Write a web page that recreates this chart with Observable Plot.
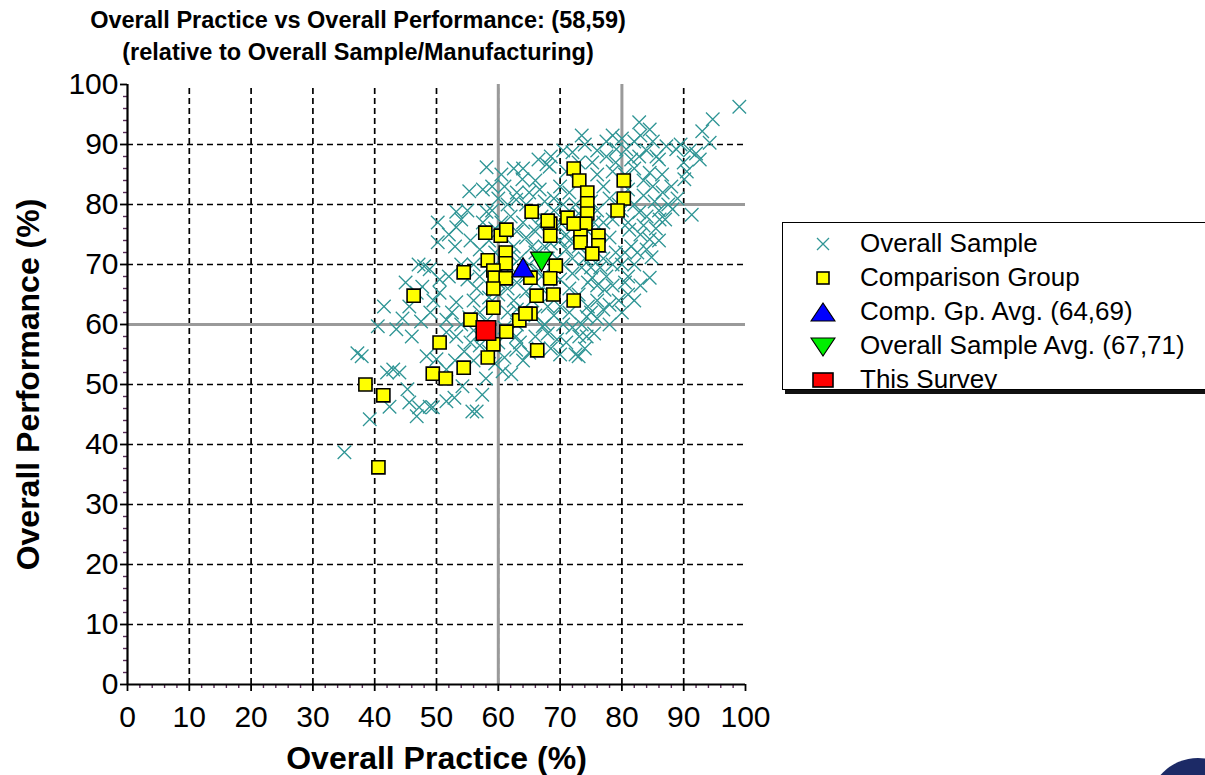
<!DOCTYPE html>
<html>
<head>
<meta charset="utf-8">
<script src="https://cdn.jsdelivr.net/npm/d3@7"></script>
<script src="https://cdn.jsdelivr.net/npm/@observablehq/plot@0.6"></script>
<style>
  html, body { margin: 0; padding: 0; background: #fff; }
  body { width: 1205px; height: 775px; overflow: hidden; position: relative; font-family: "Liberation Sans", Arial, sans-serif; }
  #title { position: absolute; left: 0; top: 4px; width: 716px; text-align: center;
    font-family: "Liberation Sans Narrow", "Liberation Sans", Arial, sans-serif; font-weight: bold;
    font-size: 23.5px; line-height: 32px; color: #000; }
  #chart { position: absolute; left: 0; top: 68px; }
  #legend { position: absolute; left: 782px; top: 222px; width: 440px; height: 168px;
    border: 1px solid #000; box-shadow: 3px 4px 0 #111; overflow: hidden; background: #fff; box-sizing: border-box; }
  .row { position: relative; height: 34px; font-size: 26px; line-height: 34px; white-space: nowrap; color: #000; }
  .row svg { position: absolute; left: 27px; top: 5px; }
  .row span { position: absolute; left: 77px; top: 0; }
  #logo { position: absolute; left: 1148px; top: 758px; width: 100px; height: 100px; border-radius: 50%; background: #1c2a66; }
  svg g[aria-label="x-axis tick label"], svg g[aria-label="y-axis tick label"] { font-size: 30px; }
  svg g[aria-label="x-axis label"], svg g[aria-label="y-axis label"] { font-size: 32px; font-weight: bold; }
</style>
</head>
<body>
<div id="title"></div>
<div id="chart"></div>
<div id="legend"></div>
<div id="logo"></div>
<script>
// ---------------- data ----------------
const titleLines = ["Overall Practice vs Overall Performance: (58,59)", "(relative to Overall Sample/Manufacturing)"];
const xLabel = "Overall Practice (%)";
const yLabel = "Overall Performance (%)";
const majorTicks = [0, 10, 20, 30, 40, 50, 60, 70, 80, 90, 100];
const minorTicks = [2,4,6,8,12,14,16,18,22,24,26,28,32,34,36,38,42,44,46,48,52,54,56,58,62,64,66,68,72,74,76,78,82,84,86,88,92,94,96,98];
const gridLines = [10, 20, 30, 40, 50, 60, 70, 80, 90];
const surveyRefX = [60];      // vertical reference (full height)
const surveyRefY = [60];      // horizontal reference (full width)
const bestRefX = [80];        // upper-right quadrant boundary
const bestRefY = [80];

const legendLabels = ["Overall Sample", "Comparison Group", "Comp. Gp. Avg. (64,69)", "Overall Sample Avg. (67,71)", "This Survey"];

const overallSample = [
  [35.1,38.7],[39.2,44.2],[37.9,54.7],[37.2,55.2],[40.5,59.7],[43.5,59.2],[45.6,63],[46.8,65.3],[44,52],[43,52.5],
  [42.4,46.3],[45.6,47],[46.8,44.7],[48.9,46.3],[51.6,47.2],[56.5,45.5],[54.2,49.7],[51.6,52.5],[48.4,54.7],[50,54.2],
  [51.6,58.7],[53.2,58],[60.7,52.2],[62.9,55.8],[65,55.3],[47.7,66.3],[48.9,69.2],[50.5,65.3],[53.2,63.7],[51.6,60.8],
  [55.3,61.2],[62.9,58],[67.2,59.7],[58.1,86.2],[55.3,82.2],[53.2,78.8],[50.2,77],[53.2,76.2],[58.1,78.8],[63.9,84.2],
  [67.8,86.7],[62.9,80.8],[66.7,82.5],[48,69.7],[99,96.3],[94.7,94.2],[93,92.2],[94.2,90.3],[84.5,92.5],[82.8,93.7],
  [88.8,89.2],[92.6,87.5],[90.5,85.5],[90.1,84.2],[86.6,82],[88.2,79.2],[91.3,78.3],[84.5,74.2],[82,70],[79.1,89.2],
  [77.5,90.5],[72,88.7],[75.2,87],[68.3,86.3],[81.2,75.8],[81.5,73],[82.8,78.7],[86.1,77.5],[85.3,80.5],[84.5,85.3],
  [82.8,88],[80.7,89.2],[85.6,88],[87.2,89.7],[84.8,71.2],[84.5,67.8],[78,63.3],[74.3,61.3],[73.1,58],[77.2,65.8],
  [75.2,67.8],[78,60],[74.3,58],[73,54.7],[50.2,73.7],[47.1,70],[45,67],[44.5,61],[41.5,63],[46,58],
  [47.5,60.5],[49,62],[42,52],[45.3,49.2],[47.2,46.2],[49.4,46.2],[52.9,47.8],[55.8,45.5],[57.4,48.3],[62.1,51.7],
  [58,51],[59.5,53.5],[56,54],[57,56.5],[54.5,55.5],[53,54],[56,64],[57,62],[58,60.5],[56.5,66],
  [55,67.5],[56,70],[57,72.5],[55.5,74],[57.5,77],[59,79],[60,81],[61,83],[62,78],[60.5,77],
  [59.5,72],[60.5,69],[60,65],[61.5,62],[62.5,64],[63,67],[62,69.5],[63.5,71],[62.5,73],[63,75.5],
  [64,77],[64.5,80],[65,82],[66,84],[64,86],[65.5,73],[66,75.5],[65,70],[66.5,69],[67,66],
  [65.5,64],[64,62.5],[66,61.5],[68,63],[67.5,60],[69,61.5],[70,63],[70.5,60],[71.5,62],[72,59.5],
  [71,57],[69.5,57.5],[68.5,56],[70,55],[72.5,55],[74,56],[75.5,58.5],[76,61],[77,62.5],[76,64],
  [74.5,63],[73,65],[71.5,66],[70,67.5],[69.5,71],[71,72.5],[70.5,70],[72,68.5],[73.5,69.5],[74.5,67],
  [76,66.5],[77.5,68],[78.5,70],[79,72],[77,71],[76.5,73],[78,74.5],[77,77],[78.5,77.5],[79.5,80],
  [78,81],[77,83],[76,85],[78.5,85.5],[79,87],[77.5,88],[76,89],[74,90],[73,87],[71,85.5],
  [70,83],[69,81],[70.5,80],[71.5,82],[72.5,80],[73,78.5],[75,80.5],[76,79],[75.5,77],[71,75],
  [70,77],[69,79],[67.5,80.5],[67,78],[66.5,76.5],[67.5,73],[68,71],[66,72],[64.5,68],[63,60],
  [61,59.5],[60,57],[63.5,57],[66,58],[68.5,65],[67,68],[70,74],[72,71],[74,71],[75,69.5],
  [80,70],[80.5,67],[81,65],[79.5,64],[80,62],[82,64],[83,66.5],[81,68],[80.5,72],[82.5,72],
  [83,75],[81,77],[80,79],[82,80],[83.5,81.5],[81,82.5],[80.5,85],[82,86],[83.5,84],[85,83],
  [86.5,85],[86,87.5],[84,89],[82,90.5],[80,91],[78.5,91.5],[83,91.5],[81.5,87.5],[88,83],[87.5,80],
  [86,79],[84,78],[85.5,76],[83.5,76.5],[84,72.5],[86,74],[87,77.5],[89,81],[90,87],[91,89],
  [89.5,90],[92,88.5],[85,90.5],[73.5,91.5],[70.5,89],[68.5,88],[66.5,87.5],[62.5,86],[60.5,85],[59,83],
  [57.5,82.5],[55,79],[54,77.5],[52,75],[53,73],[54,70],[52,68],[50.5,67.5],[49.5,64],[52.5,62],
  [54,60],[56,59],[57.5,58],[55.5,57],[58.5,55.5],[61,54.5],[64,54],[66.5,56],[68,58.5],[73.5,60],
  [75,62],[78.5,66.5],[76.5,69.5],[73,73],[74.5,75.5],[71.5,74],[68.5,73.5],[69.5,76],[65.5,79],[63,82],
  [61.5,80],[59.5,76],[58.5,74],[57,68],[58.5,64.5],[60,67],[61.5,66],[63,62.5],[64.5,65.5],[62,71.5],
  [60.5,71],[64.5,74.5]
];

const comparisonGroup = [
  [72.2,86],[73.1,84],[74.4,82],[74.4,80.2],[74.4,78.5],[74.1,76.8],[73.3,74.8],[73.3,73.7],[76.2,74.8],[76.2,73.2],
  [75.2,71.8],[71.2,77.8],[72.2,76.8],[68.4,76.8],[68.4,74.8],[80.3,84],[80.3,81],[79.3,79],[69.3,69.8],[68.4,67.7],
  [65.4,78.8],[57.9,75.3],[60.4,74.8],[61.3,75.8],[58.3,70.7],[61.2,72],[61.2,70.2],[54.4,68.7],[59.2,69],[68,77.3],
  [59.4,67.8],[61.2,67.7],[59.2,66],[66.2,64.8],[65.2,67.8],[59.2,62.8],[65.2,61.8],[63.4,60.7],[61.3,58.8],[59.2,56.7],
  [50.5,57],[55.5,60.8],[46.3,64.8],[64.4,61.8],[58.3,54.5],[66.3,55.7],[49.4,51.8],[51.5,51],[54.4,52.8],[38.5,50],
  [41.4,48.2],[40.6,36.2],[68.9,65],[72.2,64]
];

const compGroupAvg = [[64, 69]];
const overallSampleAvg = [[67, 71]];
const thisSurvey = [[58, 59]];

// ---------------- colors / style ----------------
const teal = "#2f9595";
const invertedTriangle = {
  draw(context, size) {
    const s3 = Math.sqrt(3);
    const y = -Math.sqrt(size / (s3 * 3));
    context.moveTo(0, -y * 2);
    context.lineTo(-s3 * y, y);
    context.lineTo(s3 * y, y);
    context.closePath();
  }
};

const toObj = arr => arr.map(([x, y]) => ({x, y}));

// ---------------- title ----------------
document.getElementById("title").innerHTML = titleLines.map(t => `<div>${t}</div>`).join("");

// ---------------- plot ----------------
const chart = Plot.plot({
  width: 1205,
  height: 707,
  marginLeft: 127,
  marginRight: 460,
  marginTop: 16,
  marginBottom: 91,
  style: { fontFamily: '"Liberation Sans", Arial, sans-serif', background: "transparent", overflow: "visible", color: "#000" },
  x: { domain: [0, 100] },
  y: { domain: [0, 100] },
  marks: [
    Plot.ruleX(gridLines, { y1: 0, y2: 100, stroke: "#000", strokeWidth: 1.7, strokeDasharray: "6,4" }),
    Plot.ruleY(gridLines, { x1: 0, x2: 100, stroke: "#000", strokeWidth: 1.7, strokeDasharray: "6,4" }),
    Plot.ruleX(surveyRefX, { y1: 0, y2: 100, stroke: "#9a9a9a", strokeWidth: 3 }),
    Plot.ruleY(surveyRefY, { x1: 0, x2: 100, stroke: "#9a9a9a", strokeWidth: 3 }),
    Plot.ruleX(bestRefX, { y1: bestRefY[0], y2: 100, stroke: "#9a9a9a", strokeWidth: 3 }),
    Plot.ruleY(bestRefY, { x1: bestRefX[0], x2: 100, stroke: "#9a9a9a", strokeWidth: 3 }),
    Plot.dot(toObj(overallSample), { x: "x", y: "y", symbol: "times", r: 6.2, stroke: teal, strokeWidth: 1.3 }),
    Plot.dot(toObj(comparisonGroup), { x: "x", y: "y", symbol: "square", r: 7.4, fill: "#ffff00", stroke: "#000", strokeWidth: 1.6 }),
    Plot.dot(toObj(compGroupAvg), { x: "x", y: "y", symbol: "triangle", r: 8.2, fill: "#0000ff", stroke: "#000", strokeWidth: 1.2 }),
    Plot.dot(toObj(overallSampleAvg), { x: "x", y: "y", symbol: invertedTriangle, r: 8.2, fill: "#00ee00", stroke: "#000", strokeWidth: 1.2 }),
    Plot.dot(toObj(thisSurvey), { x: "x", y: "y", symbol: "square", r: 11, fill: "#ff0000", stroke: "#000", strokeWidth: 1.6 }),
    Plot.axisX({ ticks: minorTicks, tickSize: 4, tickFormat: () => "", stroke: "#5a2d5a", strokeWidth: 1.4, label: null }),
    Plot.axisY({ ticks: minorTicks, tickSize: 4, tickFormat: () => "", stroke: "#5a2d5a", strokeWidth: 1.4, label: null }),
    Plot.axisX({ ticks: majorTicks, tickSize: 7, tickPadding: 14, strokeWidth: 1.8, tickFormat: d => String(d),
      label: xLabel, labelAnchor: "center", labelOffset: 84, labelArrow: "none" }),
    Plot.axisY({ ticks: majorTicks, tickSize: 7, tickPadding: 2, strokeWidth: 1.8, tickFormat: d => String(d),
      label: yLabel, labelAnchor: "center", labelOffset: 111, labelArrow: "none" }),
    Plot.ruleX([0], { stroke: "#000", strokeWidth: 2.2 }),
    Plot.ruleY([0], { stroke: "#000", strokeWidth: 2.2 })
  ]
});
document.getElementById("chart").appendChild(chart);

// ---------------- legend ----------------
const legendSymbols = [
  `<svg width="26" height="26"><path d="M7,7L19,19M19,7L7,19" stroke="${teal}" stroke-width="1.3"/></svg>`,
  `<svg width="26" height="26"><rect x="7" y="7" width="12" height="12" fill="#ffff00" stroke="#000" stroke-width="1.6"/></svg>`,
  `<svg width="26" height="26"><path d="M13,4L25,22L1,22Z" fill="#0000ff" stroke="#000" stroke-width="1.2"/></svg>`,
  `<svg width="26" height="26"><path d="M13,23L25,5L1,5Z" fill="#00ee00" stroke="#000" stroke-width="1.2"/></svg>`,
  `<svg width="26" height="26"><rect x="3" y="6" width="20" height="14" fill="#ff0000" stroke="#000" stroke-width="1.6"/></svg>`
];
document.getElementById("legend").innerHTML =
  `<div style="height:3px"></div>` +
  legendLabels.map((l, i) => `<div class="row">${legendSymbols[i]}<span>${l}</span></div>`).join("");
</script>
</body>
</html>
